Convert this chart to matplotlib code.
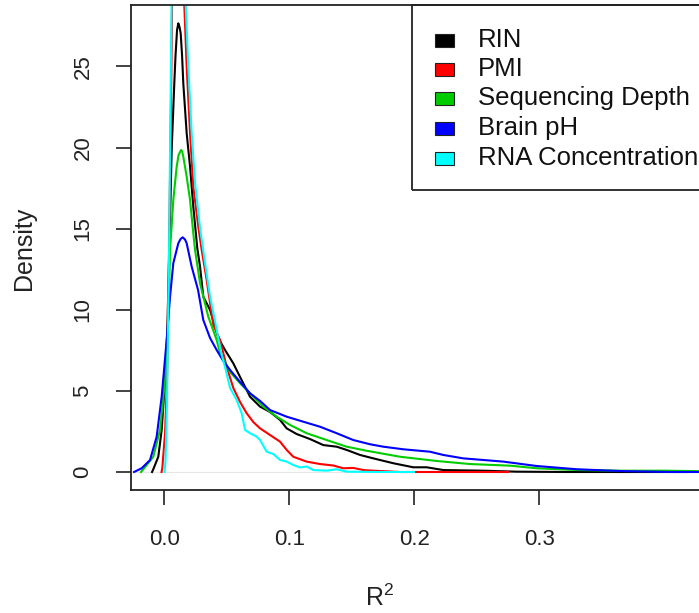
import matplotlib
matplotlib.use("Agg")
import matplotlib.pyplot as plt
from matplotlib.patches import Rectangle

plt.rcParams['font.family'] = ['Liberation Sans', 'DejaVu Sans']
plt.rcParams['mathtext.default'] = 'regular'

# Kernel density estimates of R^2 per covariate (x = R^2, y = density)
rin_x = [-0.0098, -0.0088, -0.0048, -0.0021, 0.0006, 0.0024, 0.0040, 0.0059, 0.0080, 0.0090,
         0.0102, 0.0112, 0.0122, 0.0131, 0.0142, 0.0152, 0.0179, 0.0206, 0.0232, 0.0264,
         0.0286, 0.0312, 0.0366, 0.0432, 0.0486, 0.0552, 0.0606, 0.0686, 0.0766, 0.0846,
         0.0926, 0.0979, 0.1059, 0.1166, 0.1272, 0.1379, 0.1459, 0.1566, 0.1672, 0.1832,
         0.1992, 0.2099, 0.2232, 0.2552, 0.2819, 0.3219, 0.4190]
rin_y = [0.0, 0.17, 0.94, 2.59, 5.67, 8.75, 13.69, 19.85, 23.96, 25.70,
         27.25, 27.66, 27.43, 27.05, 25.70, 23.96, 20.88, 18.82, 16.36, 13.79,
         12.66, 10.81, 9.99, 8.26, 7.52, 6.70, 5.86, 4.64, 4.03, 3.70,
         3.21, 2.69, 2.34, 2.03, 1.66, 1.56, 1.36, 1.05, 0.84, 0.54,
         0.29, 0.29, 0.12, 0.08, 0.02, 0.0, 0.0]

pmi_x = [-0.0022, -0.0016, 0.0006, 0.0022, 0.0038, 0.0054, 0.0062, 0.0110, 0.0160, 0.0179,
         0.0206, 0.0232, 0.0272, 0.0299, 0.0339, 0.0392, 0.0446, 0.0499, 0.0552, 0.0606,
         0.0659, 0.0712, 0.0766, 0.0846, 0.0926, 0.0979, 0.1032, 0.1139, 0.1246, 0.1352,
         0.1432, 0.1512, 0.1592, 0.1672, 0.1886, 0.2750]
pmi_y = [0.0, 0.23, 2.40, 5.67, 13.69, 22.93, 28.79, 36.0, 28.79, 24.99,
         20.88, 17.59, 15.12, 13.69, 11.84, 9.06, 8.14, 6.49, 5.18, 4.32,
         3.62, 3.08, 2.69, 2.28, 1.87, 1.36, 0.94, 0.64, 0.49, 0.40,
         0.23, 0.25, 0.12, 0.08, 0.0, 0.0]

depth_x = [-0.0186, -0.0168, -0.0088, -0.0034, 0.0006, 0.0032, 0.0046, 0.0072, 0.0099, 0.0114,
           0.0134, 0.0142, 0.0152, 0.0179, 0.0206, 0.0232, 0.0246, 0.0286, 0.0352, 0.0419,
           0.0446, 0.0526, 0.0606, 0.0686, 0.0792, 0.0899, 0.1006, 0.1139, 0.1299, 0.1459,
           0.1619, 0.1886, 0.2179, 0.2446, 0.2766, 0.2979, 0.3299, 0.3646, 0.4019, 0.4278,
           0.4500]
depth_y = [0.0, 0.17, 0.94, 2.59, 5.67, 9.37, 13.69, 16.77, 18.82, 19.54,
           19.85, 19.79, 19.44, 18.21, 16.77, 14.72, 13.69, 11.63, 9.57, 8.14,
           7.32, 6.17, 5.47, 4.85, 4.03, 3.41, 2.90, 2.39, 1.97, 1.56,
           1.31, 0.94, 0.68, 0.49, 0.39, 0.23, 0.12, 0.08, 0.08, 0.05,
           0.03]

ph_x = [-0.0242, -0.0181, -0.0114, -0.0061, -0.0021, 0.0019, 0.0046, 0.0072, 0.0112, 0.0130,
        0.0147, 0.0166, 0.0179, 0.0219, 0.0270, 0.0312, 0.0366, 0.0419, 0.0472, 0.0526,
        0.0606, 0.0686, 0.0766, 0.0846, 0.0979, 0.1112, 0.1246, 0.1379, 0.1512, 0.1646,
        0.1752, 0.1912, 0.2126, 0.2232, 0.2392, 0.2712, 0.2979, 0.3299, 0.3646, 0.4046,
        0.4500]
ph_y = [0.0, 0.23, 0.74, 2.18, 4.64, 8.14, 10.81, 12.87, 14.10, 14.36,
        14.47, 14.33, 14.10, 12.66, 11.22, 9.37, 8.26, 7.52, 6.84, 6.29,
        5.55, 4.85, 4.38, 3.82, 3.41, 3.10, 2.79, 2.39, 1.97, 1.71,
        1.56, 1.40, 1.25, 1.05, 0.84, 0.64, 0.37, 0.17, 0.06, 0.0,
        0.0]

rna_x = [0.0002, 0.0010, 0.0022, 0.0038, 0.0050, 0.0058, 0.0110, 0.0171, 0.0192, 0.0219,
         0.0246, 0.0286, 0.0326, 0.0366, 0.0419, 0.0459, 0.0486, 0.0526, 0.0579, 0.0619,
         0.0646, 0.0686, 0.0739, 0.0766, 0.0819, 0.0872, 0.0926, 0.0979, 0.1032, 0.1086,
         0.1139, 0.1192, 0.1299, 0.1379, 0.1459, 0.1726, 0.1998]
rna_y = [0.0, 0.74, 4.44, 13.69, 22.93, 28.79, 40.0, 28.79, 24.99, 20.88,
         17.80, 15.04, 12.87, 10.81, 8.75, 7.21, 6.47, 5.18, 4.44, 3.62,
         2.59, 2.39, 2.18, 1.97, 1.25, 1.11, 0.74, 0.64, 0.43, 0.28,
         0.34, 0.12, 0.08, 0.17, 0.02, 0.0, 0.0]

labels = ["RIN", "PMI", "Sequencing Depth", "Brain pH", "RNA Concentration"]
colors = ["#000000", "#ff0000", "#00cd00", "#0000ff", "#00ffff"]
series = [(rin_x, rin_y), (pmi_x, pmi_y), (depth_x, depth_y), (ph_x, ph_y), (rna_x, rna_y)]

y_ticks = [0, 5, 10, 15, 20, 25]
x_ticks = [0.0, 0.1, 0.2, 0.3]
x_tick_labels = ["0.0", "0.1", "0.2", "0.3"]

W, H = 699, 613
fig = plt.figure(figsize=(W / 100, H / 100), dpi=100)

def fx(px):
    return px / W

def fy(py):
    return (H - py) / H

# plot region runs past the right edge of the canvas
left, right, top, bottom = 131, 720, 5, 490
ax = fig.add_axes([fx(left), fy(bottom), fx(right) - fx(left), fy(top) - fy(bottom)])

ax.axhline(0, color="#e6e6e6", lw=0.8, zorder=1)
for (xs, ys), c in zip(series, colors):
    ax.plot(xs, ys, color=c, lw=1.5, zorder=2, solid_joinstyle="round")

ax.set_xlim(-0.02664, 0.44456)
ax.set_ylim(-1.11, 28.79)

for s in ax.spines.values():
    s.set_color("#222222")
    s.set_linewidth(1.3)

ax.set_yticks(y_ticks)
ax.set_yticklabels([str(v) for v in y_ticks], rotation=90, va="center", fontsize=16)
ax.set_xticks(x_ticks)
ax.set_xticklabels(x_tick_labels, fontsize=16)
ax.tick_params(axis="both", direction="out", length=11, width=1.2, color="#222222",
               labelcolor="#222222")
ax.tick_params(axis="x", pad=17)
ax.tick_params(axis="y", pad=16)

fig.text(fx(24), fy(248), "Density", rotation=90, ha="center", va="center",
         fontsize=18, color="#222222")
fig.text(fx(380), fy(598), "R$^2$", ha="center", va="center", fontsize=18, color="#222222")

# legend box with filled keys
fig.add_artist(Rectangle((fx(412), fy(190)), fx(740) - fx(412), fy(5) - fy(190),
                         transform=fig.transFigure, fill=False, ec="#222222", lw=1.3))
row_y = [40, 69, 98.5, 128, 158]
for lab, c, yy in zip(labels, colors, row_y):
    fig.add_artist(Rectangle((fx(435), fy(yy + 6.5)), fx(19), 13 / H,
                             transform=fig.transFigure, fc=c, ec="#222222", lw=0.8))
    fig.text(fx(478), fy(yy), lab, ha="left", va="center", fontsize=18.5, color="#111111")

fig.savefig("out.png", dpi=100)
